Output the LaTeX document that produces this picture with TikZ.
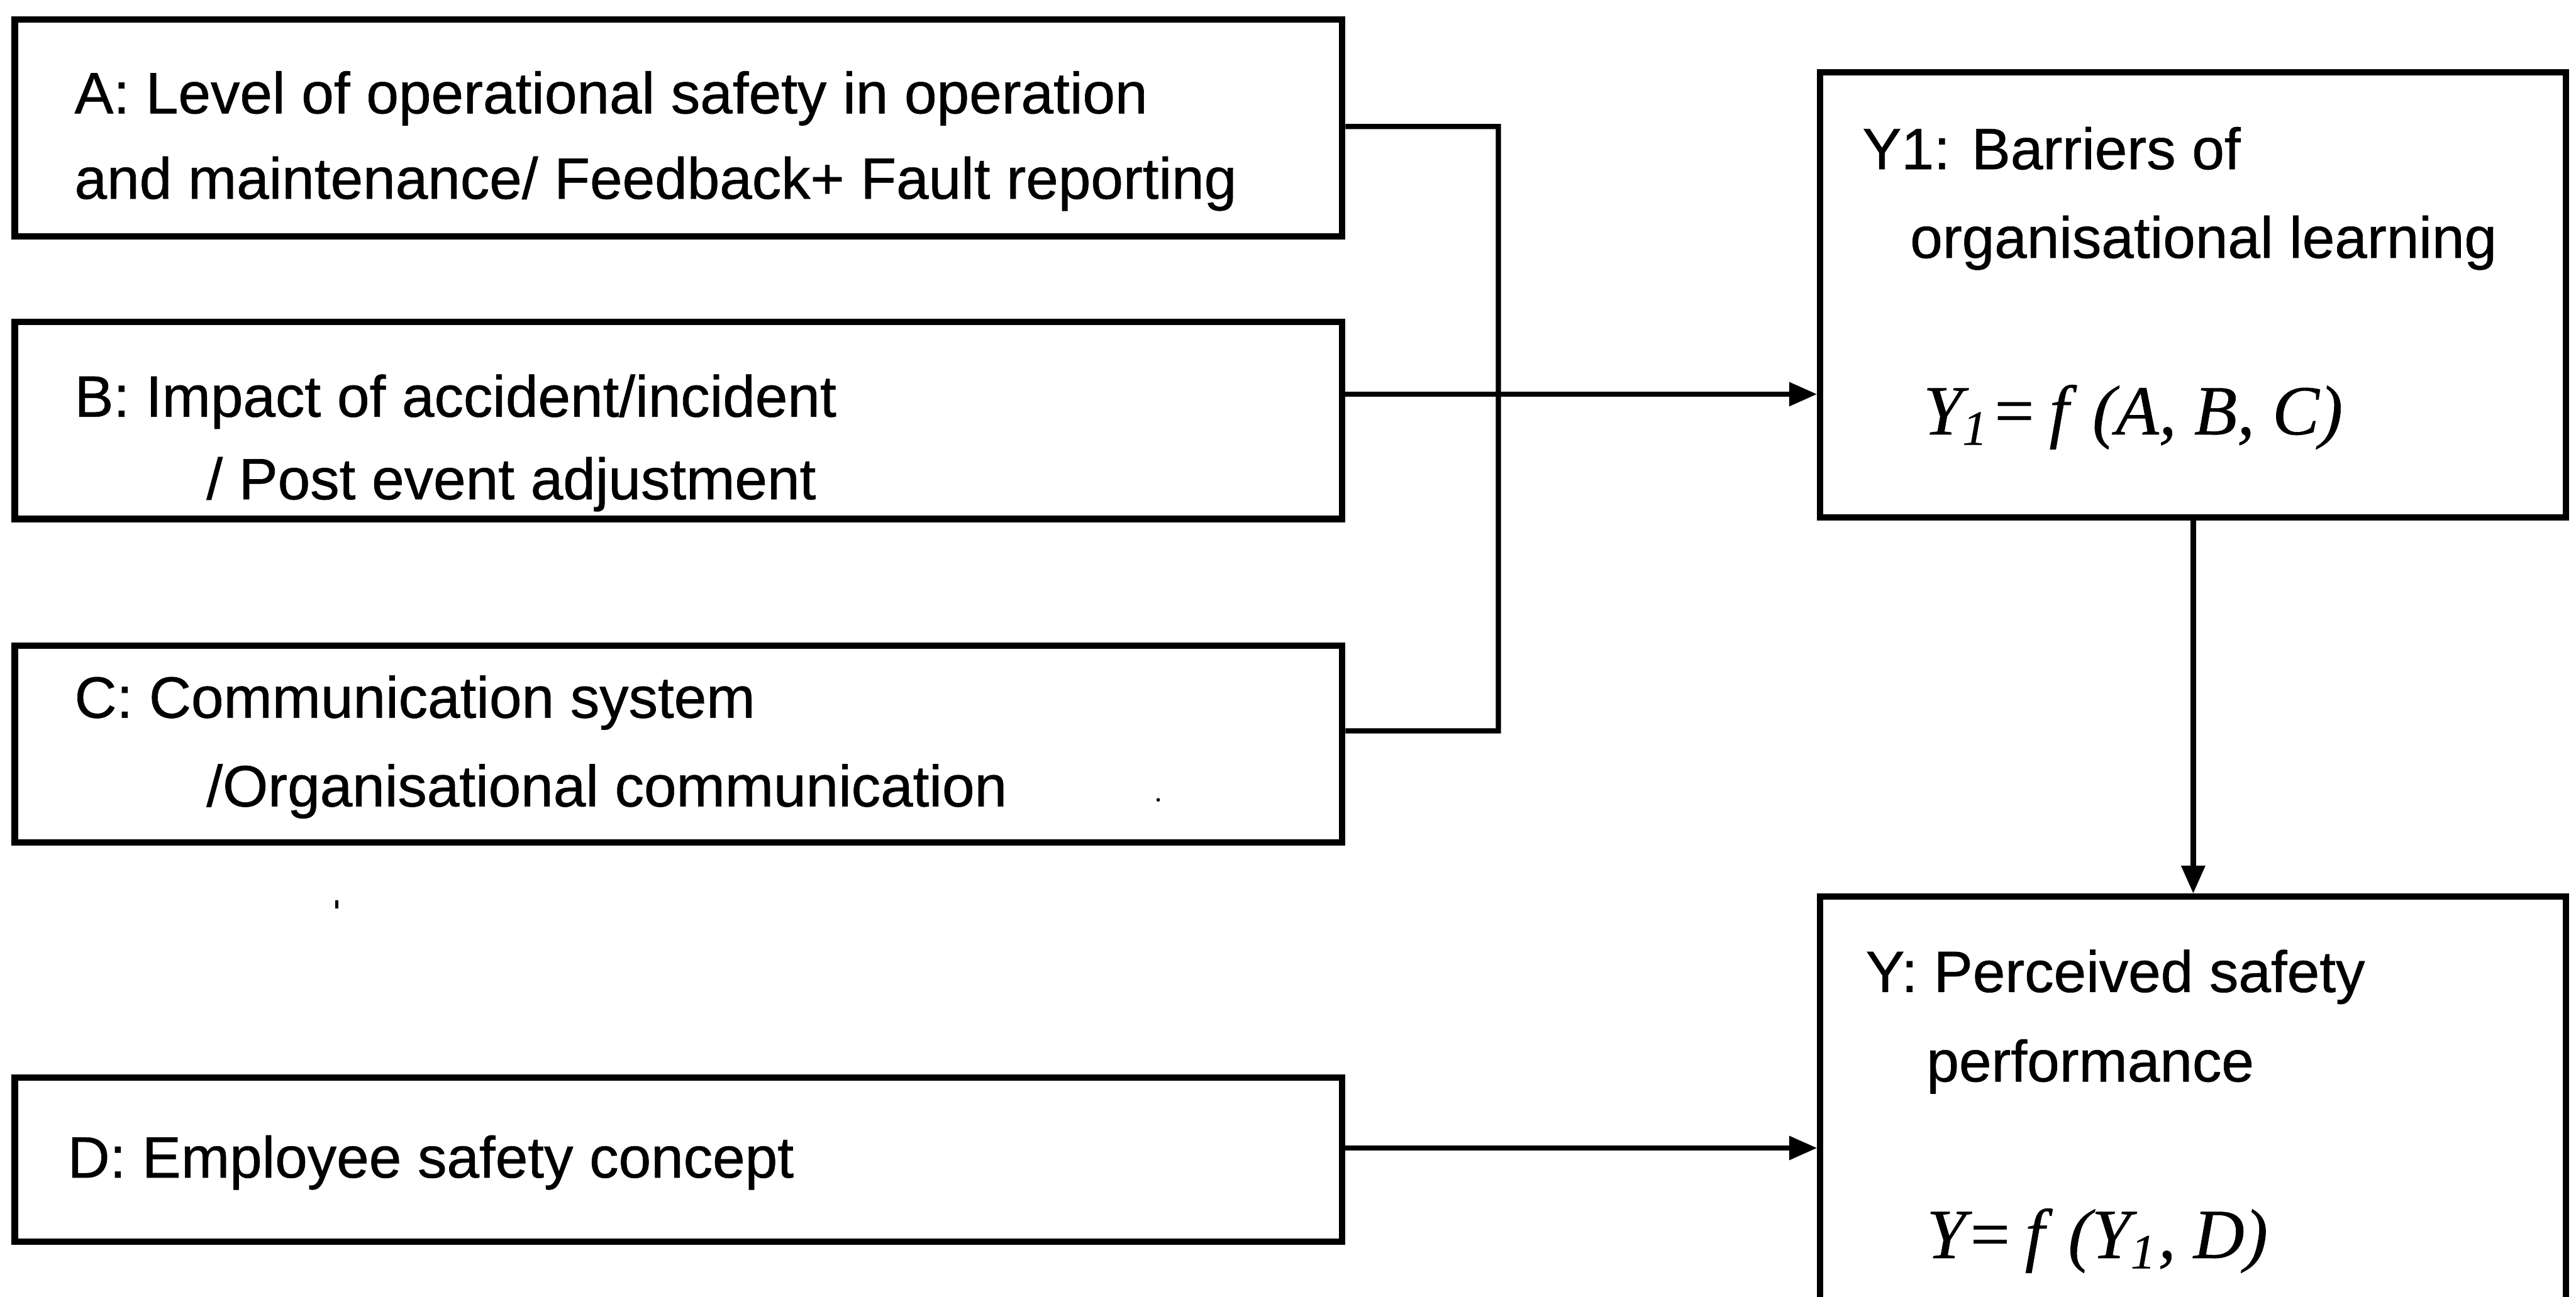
\documentclass[tikz,border=0pt]{standalone}
\usepackage{fontspec}
\setmainfont{Liberation Sans}[UprightFeatures={FakeBold=0.7}]
\newfontfamily\fmlafont{Liberation Serif}[ItalicFeatures={FakeBold=0.5}]
\usetikzlibrary{arrows.meta}

\begin{document}
\begin{tikzpicture}[x=0.1mm, y=-0.1mm,
  box/.style={draw, rectangle, line width=1.1pt, inner sep=0pt},
  lbl/.style={anchor=base west, inner sep=0pt, font=\fontsize{10.1}{12}\selectfont},
  fml/.style={anchor=base west, inner sep=0pt, font=\fmlafont\fontsize{12.2}{14}\selectfont\itshape},
  link/.style={draw, line width=0.9pt},
  arrowlink/.style={link, -{Triangle[length=1.7mm, width=1.4mm]}}]

% page
\fill[white] (0,0) rectangle (1568,789.6);
\useasboundingbox (0,0) rectangle (1568,789.6);

% input boxes
\node[box, minimum width=80.8mm, minimum height=13.2mm] (A) at (413,78) {};
\node[box, minimum width=80.8mm, minimum height=12.0mm] (B) at (413,256) {};
\node[box, minimum width=80.8mm, minimum height=12.0mm] (C) at (413,453) {};
\node[box, minimum width=80.8mm, minimum height=10.0mm] (D) at (413,706) {};

% output boxes (the lower one runs off the bottom edge)
\node[box, minimum width=45.4mm, minimum height=27.1mm] (Y1) at (1335,179.5) {};
\node[box, minimum width=45.4mm, minimum height=30.0mm] (Y) at (1335,696) {};

% texts of the input boxes
\node[lbl] (a1) at (44.7,69) {A: Level of operational safety in operation};
\node[lbl] (a2) at (44.7,121) {and maintenance/ Feedback+ Fault reporting};
\node[lbl] (b1) at (44.7,253.7) {B: Impact of accident/incident};
\node[lbl] (b2) at (125,304) {/ Post event adjustment};
\node[lbl] (c1) at (44.7,437) {C: Communication system};
\node[lbl] (c2) at (125,491) {/Organisational communication};
\node[lbl] (d1) at (40.5,717) {D: Employee safety concept};

% texts of the output boxes
\node[lbl] (y1a) at (1133,103) {Y1: Barriers of};
\node[lbl] (y1b) at (1162,157) {organisational learning};
\node[fml] (y1f) at (1170,264.5) {Y\textsubscript{1}=\,f\,\,(A, B, C)};
\node[lbl] (ya) at (1135,604) {Y: Perceived safety};
\node[lbl] (yb) at (1172,658.5) {performance};
\node[fml] (yf) at (1172,766) {Y=\,f\,\,(Y\textsubscript{1}, D)};

% bracket joining A and C, and the arrows
\coordinate (jn) at (912,445);
\path[link] ([yshift=0.1mm]A.east) -| (jn) -- ([yshift=0.8mm]C.east);
\coordinate (bs) at ([yshift=1.6mm]B.east);
\path[arrowlink] (bs) -- (bs -| Y1.west);
\coordinate (ds) at ([yshift=0.7mm]D.east);
\path[arrowlink] (ds) -- (ds -| Y.west);
\path[arrowlink] (Y1.south) -- (Y1.south |- Y.north);

% small specks
\fill (705,487) circle[radius=1.1];
\draw[line width=0.6pt] (205,548) -- (205,553);
\end{tikzpicture}
\end{document}
